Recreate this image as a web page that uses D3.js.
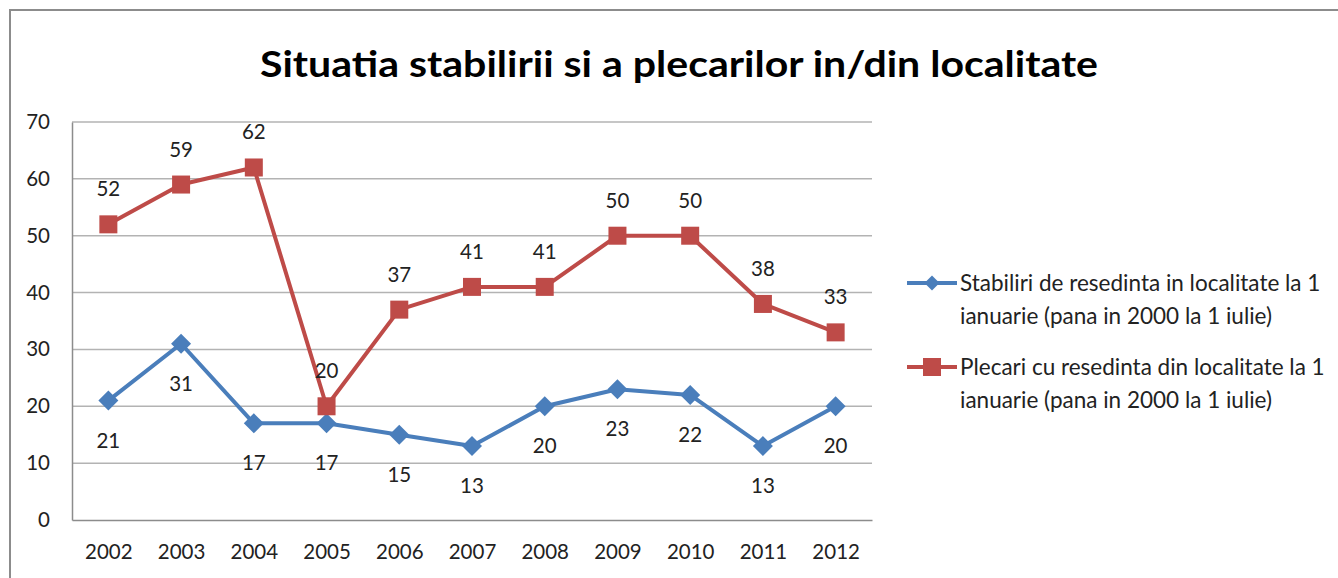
<!DOCTYPE html>
<html>
<head>
<meta charset="utf-8">
<script src="https://cdn.jsdelivr.net/npm/d3@7"></script>
<style>
  body { margin: 0; background: #fff; }
  svg { display: block; font-family: Lato, "Open Sans", sans-serif; }
</style>
</head>
<body>
<svg id="chart" width="1338" height="578"></svg>
<script>
const years = ["2002", "2003", "2004", "2005", "2006", "2007", "2008", "2009", "2010", "2011", "2012"];
const stabiliri = [21, 31, 17, 17, 15, 13, 20, 23, 22, 13, 20];
const plecari = [52, 59, 62, 20, 37, 41, 41, 50, 50, 38, 33];
const yTicks = [0, 10, 20, 30, 40, 50, 60, 70];
const titleText = "Situatia stabilirii si a plecarilor in/din localitate";
const legendLines = [
  ["Stabiliri de resedinta in localitate la 1", "ianuarie (pana in 2000 la 1 iulie)"],
  ["Plecari cu resedinta din localitate la 1", "ianuarie (pana in 2000 la 1 iulie)"]
];

const blue = "#4a7ebb";
const red = "#be4b48";

const svg = d3.select("#chart");

// outer frame
svg.append("rect")
  .attr("x", 10).attr("y", 10)
  .attr("width", 1340).attr("height", 580)
  .attr("fill", "none")
  .attr("stroke", "#8c8c8c")
  .attr("stroke-width", 2);

svg.append("text")
  .attr("x", 679).attr("y", 77)
  .attr("text-anchor", "middle")
  .attr("font-size", 36).attr("font-weight", "bold")
  .attr("textLength", 838).attr("lengthAdjust", "spacingAndGlyphs")
  .attr("fill", "#000")
  .text(titleText);

const x = d3.scalePoint().domain(years).range([72, 872]).padding(0.5);
const y = d3.scaleLinear().domain([0, 70]).range([520, 122]);

// gridlines
svg.append("g")
  .selectAll("line")
  .data(yTicks.filter(d => d > 0))
  .join("line")
  .attr("x1", 72).attr("x2", 872)
  .attr("y1", d => y(d)).attr("y2", d => y(d))
  .attr("stroke", "#b3b3b3").attr("stroke-width", 1.5);

// axes
const yAxis = svg.append("g")
  .attr("transform", "translate(72,0)")
  .call(d3.axisLeft(y).tickValues(yTicks).tickSize(0).tickPadding(22));
const xAxis = svg.append("g")
  .attr("transform", "translate(0,520)")
  .call(d3.axisBottom(x).tickSize(0).tickPadding(24));
[yAxis, xAxis].forEach(g => {
  g.select(".domain").attr("stroke", "#8c8c8c").attr("stroke-width", 1.5);
  g.selectAll("text")
    .attr("font-size", 20.5)
    .attr("font-family", "Lato, sans-serif")
    .attr("fill", "#222");
});

const series = [
  { values: stabiliri, color: blue, marker: "diamond", below: true },
  { values: plecari, color: red, marker: "square", below: false }
];

const line = d3.line().x((d, i) => x(years[i])).y(d => y(d));

function marker(g, type, color) {
  if (type === "diamond") {
    g.append("path")
      .attr("d", "M0,-10L10,0L0,10L-10,0Z")
      .attr("fill", color);
  } else {
    g.append("rect")
      .attr("x", -9).attr("y", -9)
      .attr("width", 18).attr("height", 18)
      .attr("fill", color);
  }
}

series.forEach(s => {
  svg.append("path")
    .datum(s.values)
    .attr("d", line)
    .attr("fill", "none")
    .attr("stroke", s.color)
    .attr("stroke-width", 4)
    .attr("stroke-linejoin", "round");

  s.values.forEach((v, i) => {
    const g = svg.append("g").attr("transform", `translate(${x(years[i])},${y(v)})`);
    marker(g, s.marker, s.color);
  });

  svg.append("g")
    .selectAll("text")
    .data(s.values)
    .join("text")
    .attr("x", (d, i) => x(years[i]))
    .attr("y", d => y(d) + (s.below ? 47 : -28))
    .attr("text-anchor", "middle")
    .attr("font-size", 20.5)
    .attr("fill", "#222")
    .text(d => d);
});

// legend
const legend = svg.append("g");
series.forEach((s, i) => {
  const ly = 283 + i * 84;
  legend.append("line")
    .attr("x1", 907).attr("x2", 957)
    .attr("y1", ly).attr("y2", ly)
    .attr("stroke", s.color).attr("stroke-width", 4);
  const g = legend.append("g").attr("transform", `translate(932,${ly})`);
  marker(g, s.marker, s.color);
  g.select("path").attr("transform", "scale(0.75)");
  legendLines[i].forEach((t, j) => {
    legend.append("text")
      .attr("x", 960).attr("y", ly + 8 + j * 33)
      .attr("font-size", 22.5)
      .attr("fill", "#222")
      .text(t);
  });
});
</script>
</body>
</html>
